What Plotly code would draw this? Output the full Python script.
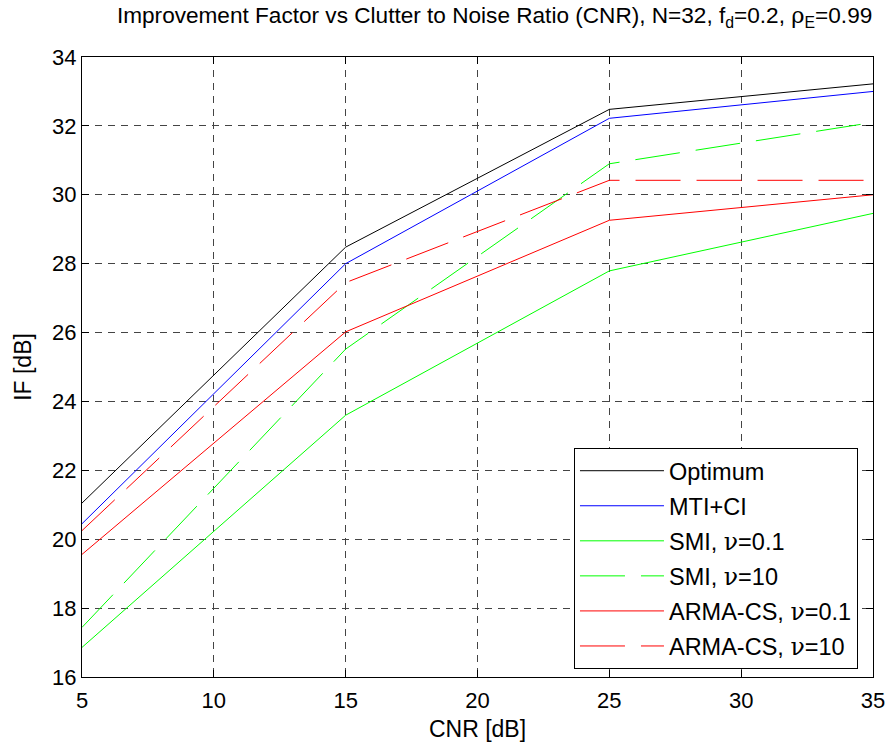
import plotly.graph_objects as go

cnr = [5, 15, 25, 35]
optimum = [21.05, 28.48, 32.48, 33.22]
mti_ci = [20.45, 28.0, 32.22, 33.0]
smi_01 = [16.86, 23.6, 27.79, 29.46]
smi_10 = [17.44, 25.52, 30.9, 32.1]
arma_01 = [19.56, 26.02, 29.26, 30.0]
arma_10 = [20.25, 27.45, 30.42, 30.42]

NU = "<span style='font-family:DejaVu Serif'>ν</span>"
series = [
    ("Optimum", optimum, "black", "solid"),
    ("MTI+CI", mti_ci, "blue", "solid"),
    (f"SMI, {NU}=0.1", smi_01, "#00ff00", "solid"),
    (f"SMI, {NU}=10", smi_10, "#00ff00", "45px,16px"),
    (f"ARMA-CS, {NU}=0.1", arma_01, "red", "solid"),
    (f"ARMA-CS, {NU}=10", arma_10, "red", "45px,16px"),
]

fig = go.Figure()
for i, (name, ys, color, dash) in enumerate(series):
    fig.add_trace(go.Scatter(x=cnr, y=ys, mode="lines", name=name,
                             legendgroup=f"g{i}",
                             line=dict(color=color, width=1, dash=dash)))

TF = 22
axis_common = dict(showline=True, linecolor="black", linewidth=1, mirror="allticks",
                   ticks="inside", ticklen=7, tickcolor="black",
                   showgrid=True, gridcolor="#444", griddash="7px,6px", gridwidth=1,
                   zeroline=False, tickfont=dict(size=TF, color="black"))

fig.update_xaxes(range=[5, 35], tickmode="array", tickvals=[5, 10, 15, 20, 25, 30, 35],
                 ticklabelstandoff=4,
                 title=dict(text="CNR [dB]", font=dict(size=23, color="black"), standoff=8),
                 **axis_common)
fig.update_yaxes(range=[16, 34], tickmode="array", tickvals=list(range(16, 35, 2)),
                 title=dict(text="IF [dB]", font=dict(size=23, color="black"), standoff=14),
                 **axis_common)

fig.update_layout(
    width=888, height=745,
    margin=dict(l=82, r=15, t=57, b=68, autoexpand=False),
    paper_bgcolor="white", plot_bgcolor="white",
    font=dict(family="Liberation Sans, Arial, sans-serif", color="black"),
    title=dict(text="Improvement Factor vs Clutter to Noise Ratio (CNR), N=32, f<sub>d</sub>=0.2, <span style='font-family:DejaVu Serif'>ρ</span><sub>E</sub>=0.99",
               x=0.557, xanchor="center", y=0.99, yanchor="top",
               font=dict(size=22.6, color="black")),
    legend=dict(x=0.981, y=0.013, xanchor="right", yanchor="bottom",
                bgcolor="white", bordercolor="black", borderwidth=1,
                font=dict(size=23.5, color="black"), tracegroupgap=1.5,
                itemwidth=84),
    showlegend=True,
)

fig.write_html("out.html")
